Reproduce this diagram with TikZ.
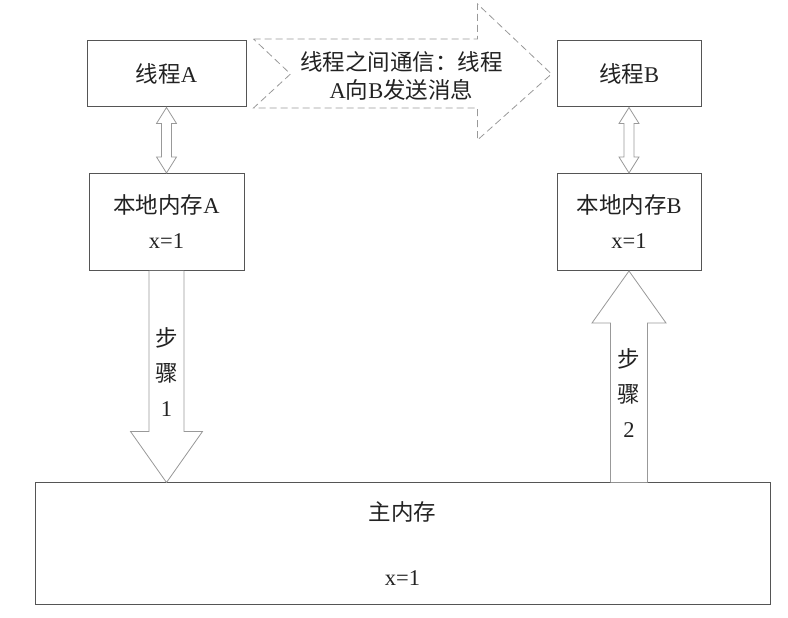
\documentclass[tikz,border=0pt]{standalone}
\usepackage{fontspec}
\setmainfont{Liberation Serif}
\newfontfamily\cjk{Noto Sans CJK SC}
\newcommand{\zh}[1]{{\cjk #1}}
\usetikzlibrary{calc}
\definecolor{boxline}{HTML}{555555}
\definecolor{arrline}{HTML}{999999}
\definecolor{txt}{HTML}{222222}

\begin{document}
\begin{tikzpicture}[x=1pt, y=1pt,
			node distance=148pt,
			base/.style={text=txt, font=\fontsize{22.5}{28}\selectfont, align=center},
			box/.style={base, draw=boxline, line width=1pt, minimum height=66pt, inner sep=0pt},
			membox/.style={box, minimum height=97pt, font=\fontsize{22.5}{35}\selectfont},
			hollow/.style={draw=arrline, line width=0.8pt, fill=white},
			msgarrow/.style={draw=arrline, dash pattern=on 7pt off 4pt, line width=0.8pt},
			steplabel/.style={base, font=\fontsize{22.5}{35}\selectfont},
		]
		\useasboundingbox (0,0) rectangle (788,618);

		\node[box, minimum width=159pt] (thrA) at (166.5,544) {\zh{线程}A};
		\node[membox, minimum width=155pt, below of=thrA] (memA) {\zh{本地内存}A\\x=1};
		\node[box, minimum width=144pt, right of=thrA, xshift=314.5pt] (thrB) {\zh{线程}B};
		\node[membox, minimum width=144pt, below of=thrB] (memB) {\zh{本地内存}B\\x=1};
		\node[box, minimum width=735pt, minimum height=122pt] (main) at (402.5,74) {\zh{主内存}\\[37pt]x=1};

		% message from A to B
		\draw[msgarrow] ($(thrA.east)+(7,35)$) -- ($(thrB.west)+(-79,35)$) -- ($(thrB.west)+(-79,70)$) -- ($(thrB.west)+(-5,0)$) -- ($(thrB.west)+(-79,-66)$) -- ($(thrB.west)+(-79,-34)$) -- ($(thrA.east)+(7,-34)$) -- ($(thrA.east)+(44,0)$) -- cycle;
		\node[base, yshift=-2pt] (msg) at ($(thrA.east)!0.5!(thrB.west)$) {\zh{线程之间通信：线程}\\A\zh{向}B\zh{发送消息}};

		% thread <-> local memory
		\foreach \up/\dn in {thrA/memA, thrB/memB}
			\draw[hollow] (\up.south) -- ++(10,-16) -- ++(-5,0) -- ($(\dn.north)+(5,16)$) -- ++(5,0) -- (\dn.north) -- ++(-10,16) -- ++(5,0) -- ($(\up.south)+(-5,-16)$) -- ++(-5,0) -- cycle;

		% step 1
		\coordinate (s1end) at (memA.south |- main.north);
		\draw[hollow] ($(memA.south)+(-17.5,0)$) -- ($(s1end)+(-17.5,51)$) -- ++(-18.5,0) -- (s1end) -- ++(36,51) -- ++(-18.5,0) -- ($(memA.south)+(17.5,0)$);
		\node[steplabel, yshift=5pt] (step1) at ($(memA.south)!0.5!(s1end)$) {\zh{步}\\\zh{骤}\\1};

		% step 2
		\coordinate (s2start) at (memB.south |- main.north);
		\draw[hollow] ($(s2start)+(-18.5,0)$) -- ($(memB.south)+(-18.5,-52)$) -- ++(-18.5,0) -- (memB.south) -- ++(37,-52) -- ++(-18.5,0) -- ($(s2start)+(18.5,0)$);
		\node[steplabel, yshift=-16pt] (step2) at ($(memB.south)!0.5!(s2start)$) {\zh{步}\\\zh{骤}\\2};

\end{tikzpicture}
\end{document}
